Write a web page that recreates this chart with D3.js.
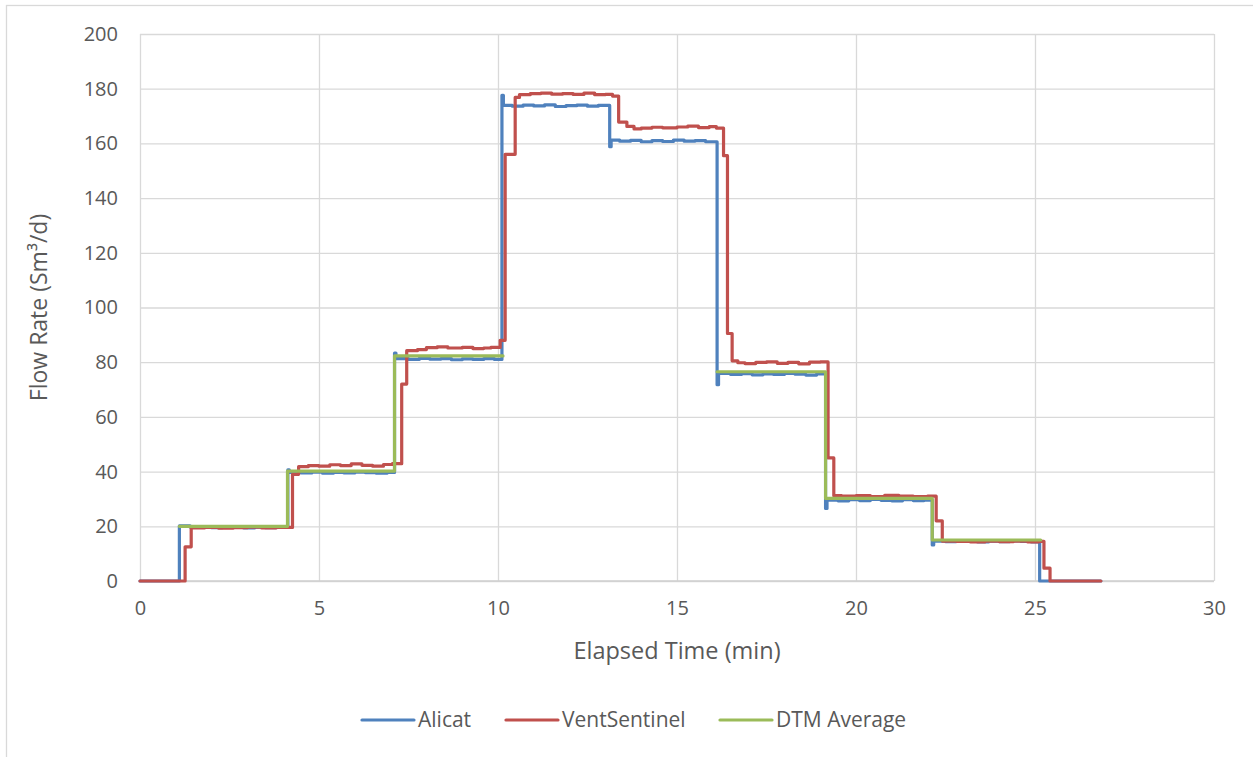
<!DOCTYPE html>
<html>
<head>
<meta charset="utf-8">
<script src="https://cdn.jsdelivr.net/npm/d3@7/dist/d3.min.js"></script>
<style>
  html, body { margin: 0; padding: 0; background: #fff; }
  svg { display: block; }
  text { font-family: "Open Sans", "Liberation Sans", sans-serif; fill: #595959; }
</style>
</head>
<body>
<svg id="chart" width="1253" height="757"></svg>
<script>
// Alicat meter readings: step values [elapsed min, Sm3/d]
const alicatTime = [0, 1.10, 1.4, 1.7, 2.0, 2.3, 2.6, 2.9, 3.2, 3.5, 3.8,
  4.13, 4.17, 4.5, 4.8, 5.1, 5.4, 5.7, 6.0, 6.3, 6.6, 6.9,
  7.11, 7.15, 7.5, 7.8, 8.1, 8.4, 8.7, 9.0, 9.3, 9.6, 9.9,
  10.11, 10.15, 10.4, 10.7, 11.0, 11.3, 11.6, 11.9, 12.2, 12.5, 12.8,
  13.12, 13.16, 13.4, 13.7, 14.0, 14.3, 14.6, 14.9, 15.2, 15.5, 15.8,
  16.12, 16.16, 16.5, 16.8, 17.1, 17.4, 17.7, 18.0, 18.3, 18.6, 18.9,
  19.15, 19.19, 19.5, 19.8, 20.1, 20.4, 20.7, 21.0, 21.3, 21.6, 21.9,
  22.13, 22.17, 22.5, 22.8, 23.1, 23.4, 23.7, 24.0, 24.3, 24.6, 24.9,
  25.13, 26.84];
const alicatFlow = [0, 20.2, 19.7, 19.9, 19.5, 19.8, 19.6, 19.4, 19.7, 19.5, 19.8,
  40.6, 39.7, 39.5, 39.8, 39.4, 39.7, 39.5, 39.8, 39.6, 39.4, 39.7,
  83.3, 81.3, 81.0, 81.4, 81.1, 81.3, 80.9, 81.2, 81.0, 81.3, 81.0,
  177.6, 173.9, 173.6, 174.0, 173.7, 174.1, 173.5, 173.8, 174.0, 173.6, 173.9,
  158.8, 161.2, 160.8, 161.1, 160.6, 161.0, 160.7, 161.2, 160.8, 161.0, 160.6,
  71.8, 75.9, 75.5, 75.8, 75.4, 75.7, 75.5, 75.9, 75.6, 75.3, 75.7,
  26.5, 29.6, 29.3, 29.7, 29.4, 29.8, 29.5, 29.3, 29.7, 29.4, 29.6,
  13.2, 14.6, 14.4, 14.7, 14.5, 14.3, 14.6, 14.4, 14.7, 14.5, 14.3,
  0, 0];

// VentSentinel readings
const ventTime = [0, 1.26, 1.43, 1.8, 2.2, 2.6, 3.0, 3.4, 3.8,
  4.26, 4.43, 4.7, 5.0, 5.3, 5.6, 5.9, 6.2, 6.5, 6.8, 7.05,
  7.31, 7.45, 7.75, 8.0, 8.3, 8.6, 9.0, 9.3, 9.6, 9.8,
  10.06, 10.20, 10.48, 10.6, 10.9, 11.2, 11.5, 11.8, 12.1, 12.4, 12.7, 13.0, 13.2,
  13.37, 13.6, 13.8, 14.0, 14.3, 14.6, 15.0, 15.3, 15.6, 15.9, 16.1,
  16.30, 16.41, 16.54, 16.7, 16.9, 17.2, 17.5, 17.8, 18.1, 18.4, 18.7, 19.0,
  19.22, 19.38, 19.6, 20.0, 20.4, 20.8, 21.2, 21.6, 22.0,
  22.24, 22.41, 22.8, 23.2, 23.6, 24.0, 24.4, 24.8, 25.1,
  25.25, 25.42, 26.84];
const ventFlow = [0, 12.5, 19.4, 19.6, 19.3, 19.5, 19.7, 19.4, 19.6,
  39.0, 41.8, 42.2, 42.0, 42.5, 42.2, 42.8, 42.3, 42.0, 42.6, 42.9,
  72.0, 84.2, 84.6, 85.3, 85.6, 85.2, 85.4, 85.0, 85.2, 85.4,
  88.0, 156.0, 176.8, 177.8, 178.2, 178.4, 178.0, 178.2, 177.9, 178.4, 177.8, 177.9, 177.3,
  167.8, 166.2, 165.3, 165.6, 165.9, 165.7, 166.0, 166.3, 165.8, 166.1, 165.6,
  155.5, 90.5, 80.5, 79.8, 79.5, 79.9, 80.1, 79.6, 79.9, 79.4, 80.0, 80.1,
  45.0, 31.2, 31.0, 31.2, 30.9, 31.3, 31.0, 30.9, 31.0,
  22.0, 14.6, 14.5, 14.3, 14.6, 14.4, 14.6, 14.3, 14.5,
  4.7, 0, 0];

// DTM average (no reading during the 10-16 min step)
const dtmTime = [1.10, 4.12, 7.11, 10.14, 10.14, 16.12, 19.15, 22.13, 25.16];
const dtmFlow = [20.0, 40.2, 82.3, 82.3, null, 76.5, 30.2, 15.0, 15.0];

const xTicks = [0, 5, 10, 15, 20, 25, 30];
const yTicks = [0, 20, 40, 60, 80, 100, 120, 140, 160, 180, 200];
const seriesNames = ["Alicat", "VentSentinel", "DTM Average"];
const seriesColors = ["#4F81BD", "#C0504D", "#9BBB59"];

const svg = d3.select("#chart");

// outer chart frame
svg.append("rect")
  .attr("x", 6.5).attr("y", 5.5)
  .attr("width", 1260).attr("height", 770)
  .attr("fill", "none").attr("stroke", "#d9d9d9").attr("stroke-width", 1.3);

const plot = { left: 140, right: 1214, top: 34, bottom: 581 };
const x = d3.scaleLinear().domain([0, 30]).range([plot.left, plot.right]);
const y = d3.scaleLinear().domain([0, 200]).range([plot.bottom, plot.top]);

// gridlines
const gridY = svg.append("g")
  .attr("transform", `translate(${plot.left},0)`)
  .call(d3.axisLeft(y).tickValues(yTicks).tickSize(-(plot.right - plot.left)).tickFormat(""));
gridY.select(".domain").remove();
gridY.selectAll("line").attr("stroke", "#d9d9d9").attr("stroke-width", 1.3);

const gridX = svg.append("g")
  .attr("transform", `translate(0,${plot.bottom})`)
  .call(d3.axisBottom(x).tickValues(xTicks).tickSize(-(plot.bottom - plot.top)).tickFormat(""));
gridX.select(".domain").remove();
gridX.selectAll("line").attr("stroke", "#d9d9d9").attr("stroke-width", 1.3);

// bottom axis line
svg.append("line")
  .attr("x1", plot.left).attr("x2", plot.right)
  .attr("y1", y(0)).attr("y2", y(0))
  .attr("stroke", "#cfcfcf").attr("stroke-width", 1.5);

// tick labels
const xAxis = svg.append("g")
  .attr("transform", `translate(0,${plot.bottom})`)
  .call(d3.axisBottom(x).tickValues(xTicks).tickSize(0).tickPadding(20));
xAxis.select(".domain").remove();
xAxis.selectAll("text").style("font-size", "20px").attr("fill", "#595959");

const yAxis = svg.append("g")
  .attr("transform", `translate(${plot.left},0)`)
  .call(d3.axisLeft(y).tickValues(yTicks).tickSize(0).tickPadding(22));
yAxis.select(".domain").remove();
yAxis.selectAll("text").style("font-size", "20px").attr("fill", "#595959");

// axis titles
svg.append("text")
  .attr("x", (plot.left + plot.right) / 2).attr("y", 659)
  .attr("text-anchor", "middle").style("font-size", "23.5px")
  .text("Elapsed Time (min)");

svg.append("text")
  .attr("transform", `translate(47,${(plot.top + plot.bottom) / 2}) rotate(-90)`)
  .attr("text-anchor", "middle").style("font-size", "23px")
  .text("Flow Rate (Sm³/d)");

// series lines
const line = d3.line()
  .defined(d => d[1] !== null)
  .x(d => x(d[0])).y(d => y(d[1]))
  .curve(d3.curveStepAfter);

const seriesData = [
  d3.zip(alicatTime, alicatFlow),
  d3.zip(ventTime, ventFlow),
  d3.zip(dtmTime, dtmFlow)
];

svg.append("g").selectAll("path")
  .data(seriesData)
  .join("path")
  .attr("d", line)
  .attr("fill", "none")
  .attr("stroke", (d, i) => seriesColors[i])
  .attr("stroke-width", 3.2)
  .attr("stroke-linejoin", "round")
  .attr("stroke-linecap", "round");

// legend
const legendX = [362, 506, 720];
const legend = svg.append("g").selectAll("g")
  .data(seriesNames)
  .join("g")
  .attr("transform", (d, i) => `translate(${legendX[i]},720)`);
legend.append("line")
  .attr("x1", 0).attr("x2", 52).attr("y1", 0).attr("y2", 0)
  .attr("stroke", (d, i) => seriesColors[i])
  .attr("stroke-width", 3.2).attr("stroke-linecap", "round");
legend.append("text")
  .attr("x", 56).attr("y", 0).attr("dy", "0.35em")
  .style("font-size", "21px")
  .text(d => d);
</script>
</body>
</html>
